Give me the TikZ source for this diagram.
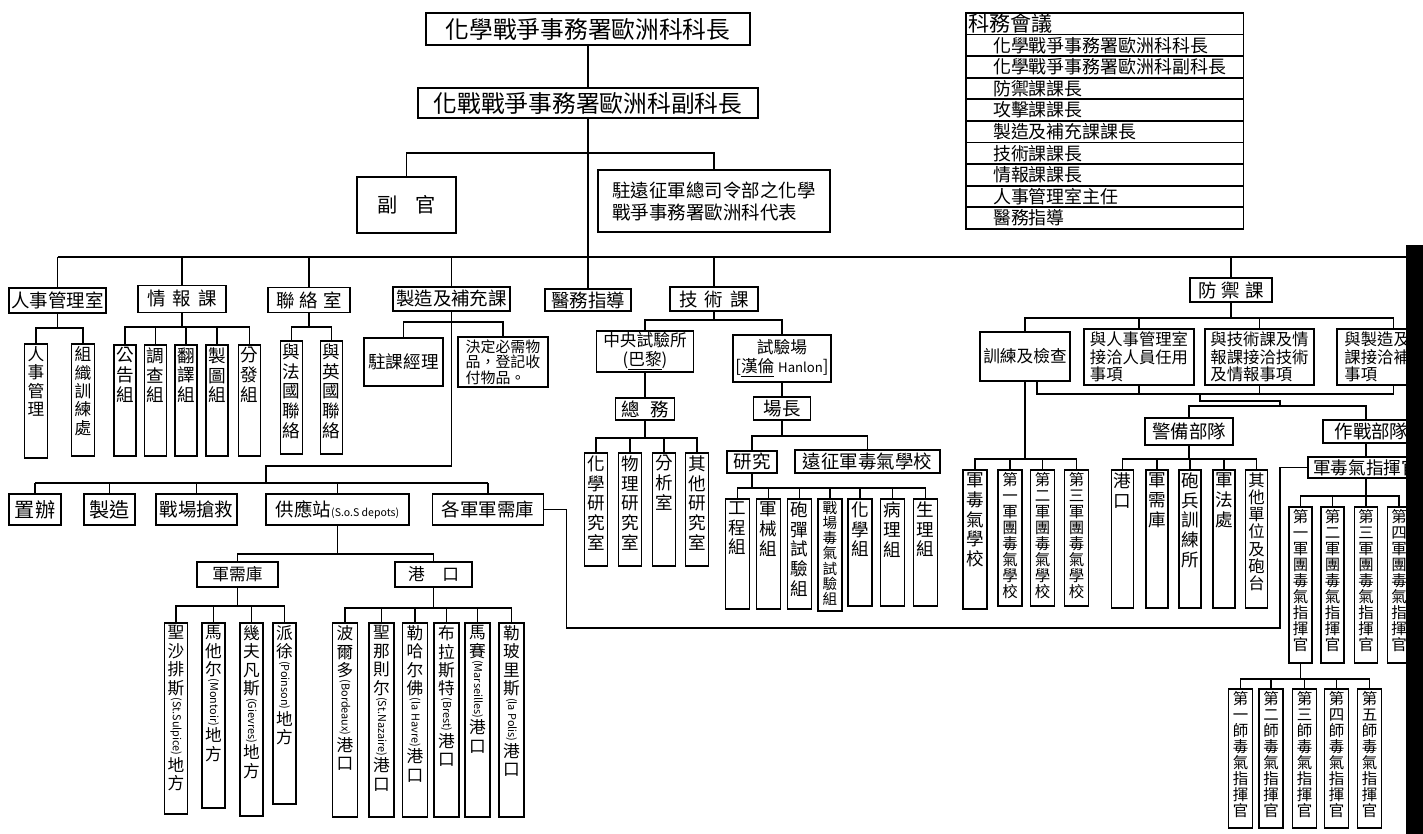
\documentclass[tikz,border=0pt]{standalone}
\usepackage{fontspec}
\usepackage{graphicx}
\setmainfont{Noto Sans CJK TC}

\newlength\pxu
\setlength\pxu{0.02cm}
% font sizes
\newcommand\fTop{\fontsize{13.5}{16}\selectfont}
\newcommand\fSec{\fontsize{10.5}{12.5}\selectfont}
\newcommand\fTab{\fontsize{10.2}{12}\selectfont}
\newcommand\fDef{\fontsize{9.3}{9.9}\selectfont}
\newcommand\fColL{\fontsize{10}{11.3}\selectfont}
\newcommand\fColM{\fontsize{9.5}{10.5}\selectfont}
\newcommand\fCol{\fontsize{9.3}{9.8}\selectfont}
\newcommand\fColS{\fontsize{8.8}{9.1}\selectfont}
\newcommand\fColXS{\fontsize{8.3}{8.6}\selectfont}
\newcommand\vlat[1]{\rotatebox[origin=c]{-90}{\fontsize{6.2}{7}\selectfont(#1)}}

\tikzset{
  wh/.style 2 args={minimum width=#1*\pxu, minimum height=#2*\pxu},
  box/.style={draw, inner sep=1pt, align=center, font=\fSec},
  vcol/.style={draw, inner sep=0pt, anchor=north},
  vt/.style={anchor=north, align=center, inner sep=1.5pt, font=\fColL},
  tabrow/.style={draw, anchor=north west, inner xsep=1.5pt, inner ysep=0.5pt,
    text width=5.45cm, align=left, minimum height=21.6*\pxu, font=\fTab},
}

\begin{document}
\begin{tikzpicture}[x=0.02cm, y=-0.02cm, line width=1pt]
\useasboundingbox (0,0) rectangle (1423,834);

% head of the section
\node[box, font=\fTop, wh={324}{32}] (chief) at (588,29) {化學戰爭事務署歐洲科科長};
\node[box, font=\fTop, wh={340}{30}] (vice) at (588,103) {化戰戰爭事務署歐洲科副科長};
\node[box, font=\fontsize{11.5}{13}\selectfont, wh={99}{56}] (aide) at (406.5,205) {副\hspace{10pt}官};
\node[box, align=left, wh={232}{62}] (rep) at (714,201) {駐遠征軍總司令部之化學\\戰爭事務署歐洲科代表};
\draw (chief.south) -- (vice.north);
\foreach \n in {aide,rep} \draw (vice.south) -- ++(0,34) -| (\n.north);

% section meeting table
\node[tabrow] (kw0) at (965,12) {\fontsize{12}{13}\selectfont 科務會議};
\foreach \txt [count=\i] in {化學戰爭事務署歐洲科科長, 化學戰爭事務署歐洲科副科長, 防禦課課長,
    攻擊課課長, 製造及補充課課長, 技術課課長, 情報課課長, 人事管理室主任, 醫務指導}
  \node[tabrow] (kw\i) at (965,{12+21.6*\i}) {\hspace*{14pt}\txt};

% first row of offices
\node[box, wh={97}{25}] (rsgls) at (57.5,300.5) {人事管理室};
\node[box, wh={88}{27}] (qbk) at (182,299) {情\hspace{4pt}報\hspace{4pt}課};
\node[box, wh={82}{25}] (lls) at (309,300) {聯\hspace{3pt}絡\hspace{3pt}室};
\node[box, wh={117}{24}] (zzk) at (451.5,299) {製造及補充課};
\node[box, wh={86}{22}] (med) at (588,300) {醫務指導};
\node[box, wh={88}{24}] (jsk) at (714,299) {技\hspace{4pt}術\hspace{4pt}課};
\node[box, wh={82}{24}] (fyk) at (1231,290) {防\hspace{3pt}禦\hspace{3pt}課};
\coordinate (busL) at (57.5,257);
\coordinate (busR) at (1406,257);
\draw (busL) -- (busR);
\draw (vice.south) -- (med.north);
\foreach \n in {rsgls,qbk,lls,zzk,jsk,fyk} \draw (\n.north) -- (\n.north |- busL);

% personnel office
\foreach \n/\x/\h/\txt in {rsgl/36/114/{人\\事\\管\\理}, zzxl/83/112/{組\\織\\訓\\練\\處}}
  \node[vcol, wh={23}{\h}, label={[vt,font=\fColM]north:\txt}] (\n) at (\x,343) {};
\foreach \n in {rsgl,zzxl} \draw (rsgls.south) -- ++(0,14) -| (\n.north);

% intelligence
\foreach \n/\x/\txt in {ggz/125/{公\\告\\組}, dcz/155.5/{調\\查\\組}, fyz/186/{翻\\譯\\組},
    ztz/217/{製\\圖\\組}, ffz/249.5/{分\\發\\組}}
  \node[vcol, wh={22}{111}, label={[vt]north:\txt}] (\n) at (\x,344) {};
\foreach \n in {ggz,dcz,fyz,ztz,ffz} \draw (qbk.south) -- ++(0,14) -| (\n.north);

% liaison
\foreach \n/\x/\txt in {yfg/291.5/{與\\法\\國\\聯\\絡}, yyg/331.5/{與\\英\\國\\聯\\絡}}
  \node[vcol, wh={22}{113}, label={[vt]north:\txt}] (\n) at (\x,340) {};
\foreach \n in {yfg,yyg} \draw (lls.south) -- ++(0,14) -| (\n.north);

% production and supply
\node[box, font=\fontsize{10}{12}\selectfont, wh={79}{48}] (zklc) at (403.5,362) {駐課經理};
\node[box, align=left, font=\fontsize{8.5}{8.8}\selectfont, wh={90}{50}] (jdwp) at (503,362) {決定必需物\\品，登記收\\付物品。};
\foreach \n in {zklc,jdwp} \draw (zzk.south) -- ++(0,10) -| (\n.north);

\node[box, font=\fontsize{11.5}{13}\selectfont, wh={52}{31}] (zb) at (35,509.5) {置辦};
\node[box, font=\fontsize{11.5}{13}\selectfont, wh={51}{31}] (zz) at (109.5,509.5) {製造};
\node[box, wh={81}{31}] (zcqj) at (196.5,509.5) {戰場搶救};
\node[box, wh={143}{31}] (gyz) at (337.5,509.5) {供應站{\fontsize{6}{7}\selectfont(S.o.S depots)}};
\node[box, wh={111}{31}] (gjjxk) at (488,509.5) {各軍軍需庫};
\coordinate (zzjog) at (266,466);
\coordinate (bus3L) at (35,483);
\coordinate (bus3R) at (488,483);
\draw (zzk.south) |- (zzjog) -- (zzjog |- bus3L);
\draw (bus3L) -- (bus3R);
\foreach \n in {zb,zz,zcqj,gyz,gjjxk} \draw (\n.north) -- (\n.north |- bus3L);

% depots and ports
\node[box, font=\fColM, wh={81}{25}] (jxk) at (237.5,574.5) {軍需庫};
\node[box, font=\fColM, wh={77}{25}] (gk) at (433.5,574.5) {港\hspace{10pt}口};
\foreach \n in {jxk,gk} \draw (gyz.south) -- ++(0,28) -| (\n.north);

\foreach \n/\x/\h/\txt in {d1/176/191/{聖\\沙\\排\\斯\\\vlat{St.Sulpice}\\地\\方},
    d2/213.5/185/{馬\\他\\尔\\\vlat{Montoir}\\地\\方},
    d3/251.5/193/{幾\\夫\\凡\\斯\\\vlat{Gievres}\\地\\方},
    d4/284.5/181/{派\\徐\\\vlat{Poinson}\\地\\方}}
  \node[vcol, wh={23}{\h}, label={[vt,font=\fColM]north:\txt}] (\n) at (\x,622) {};
\foreach \n in {d1,d2,d3,d4} \draw (jxk.south) -- ++(0,18) -| (\n.north);

\foreach \n/\x/\txt in {p1/345/{波\\爾\\多\\\vlat{Bordeaux}\\港\\口},
    p2/381.5/{聖\\那\\則\\尔\\\vlat{St.Nazaire}\\港\\口},
    p3/415/{勒\\哈\\尔\\佛\\\vlat{la Havre}\\港\\口},
    p4/446.5/{布\\拉\\斯\\特\\\vlat{Brest}\\港\\口},
    p5/477.5/{馬\\賽\\\vlat{Marseilles}\\港\\口},
    p6/511.5/{勒\\玻\\里\\斯\\\vlat{la Polis}\\港\\口}}
  \node[vcol, wh={25}{194}, label={[vt,font=\fColM]north:\txt}] (\n) at (\x,622) {};
\foreach \n in {p1,p2,p3,p4,p5,p6} \draw (gk.south) -- ++(0,20) -| (\n.north);

% technical section
\node[box, font=\fontsize{9.5}{10.5}\selectfont, wh={97}{37}] (zysys) at (645,351.5) {中央試驗所\\(\underline{巴黎})};
\node[box, font=\fontsize{9.5}{11}\selectfont, wh={98}{47}] (sycc) at (782,358.5) {試驗場\\{[}\underline{漢倫} {\fontsize{7.5}{8}\selectfont Hanlon}{]}};
\foreach \n in {zysys,sycc} \draw (jsk.south) -- ++(0,8) -| (\n.north);
\node[box, wh={59}{22}] (zw) at (645,409) {總\hspace{6pt}務};
\node[box, wh={57}{23}] (cz) at (782,408.5) {場長};
\draw (zysys.south) -- (zw.north);
\draw (sycc.south) -- (cz.north);

\foreach \n/\x/\txt in {hxs/596/{化\\學\\研\\究\\室}, wls/630/{物\\理\\研\\究\\室},
    fxs/664/{分\\析\\室}, qts/697/{其\\他\\研\\究\\室}}
  \node[vcol, wh={23}{113}, label={[vt]north:\txt}] (\n) at (\x,452) {};
\foreach \n in {hxs,wls,fxs,qts} \draw (zw.south) -- ++(0,17) -| (\n.north);

\node[box, wh={50}{22}] (yj) at (752,462) {研究};
\node[box, wh={145}{23}] (yzjdqxx) at (867.5,461.5) {遠征軍毒氣學校};
\foreach \n in {yj,yzjdqxx} \draw (cz.south) -- ++(0,15) -| (\n.north);

\foreach \n/\x/\h/\fnt/\txt in {gcz/737.5/110/\fColL/{工\\程\\組}, jxz/768.5/110/\fColL/{軍\\械\\組},
    pdz/799.5/110/\fColL/{砲\\彈\\試\\驗\\組}, zcz/830/112/\fColXS/{戰\\場\\毒\\氣\\試\\驗\\組},
    hxz/860/107/\fColL/{化\\學\\組}, blz/892.5/107/\fColL/{病\\理\\組}, slz/925.5/107/\fColL/{生\\理\\組}}
  \node[vcol, wh={24}{\h}, label={[vt,font=\fnt]north:\txt}] (\n) at (\x,498) {};
\foreach \n in {gcz,jxz,pdz,zcz,hxz,blz,slz} \draw (yj.south) -- ++(0,14) -| (\n.north);

% defence section
\node[box, font=\fontsize{9.5}{11}\selectfont, wh={90}{49}] (xljc) at (1025,356.5) {訓練及檢查};
\node[box, align=left, font=\fDef, wh={110}{56}] (yrs) at (1139,357) {與人事管理室\\接洽人員任用\\事項};
\node[box, align=left, font=\fDef, wh={109}{56}] (yjs) at (1259.5,357) {與技術課及情\\報課接洽技術\\及情報事項};
\node[box, align=left, font=\fDef, wh={113}{56}] (yzz) at (1393.5,357) {與製造及補充\\課接洽補給\\事項};
\foreach \n in {xljc,yrs,yjs,yzz} \draw (fyk.south) -- ++(0,15) -| (\n.north);
\coordinate (fyb) at (1037,394);
\coordinate (fystep) at (1200,394);
\draw (xljc.south -| fyb) -- (fyb) -| (yzz.south);
\draw (yrs.south) -- (yrs.south |- fyb);
\draw (yjs.south) -- (yjs.south |- fyb);
\draw (fystep) -- ++(0,7) -- ++(80,0) -- ++(0,6);

\foreach \n/\x/\h/\fnt/\txt in {xx1/975/139/\fColL/{軍\\毒\\氣\\學\\校},
    xx2/1010/136/\fColS/{第\\一\\軍\\團\\毒\\氣\\學\\校},
    xx3/1042.5/136/\fColS/{第\\二\\軍\\團\\毒\\氣\\學\\校},
    xx4/1076.5/136/\fColS/{第\\三\\軍\\團\\毒\\氣\\學\\校}}
  \node[vcol, wh={24}{\h}, label={[vt,font=\fnt]north:\txt}] (\n) at (\x,469) {};
\foreach \n in {xx1,xx2,xx3,xx4} \draw (xljc.south) -- ++(0,77) -| (\n.north);

\node[box, wh={88}{27}] (jbbd) at (1189,431.5) {警備部隊};
\node[box, wh={97}{23}] (zzbd) at (1371.5,431.5) {作戰部隊};
\node[box, font=\fontsize{10}{12}\selectfont, wh={116}{21}] (jdzh) at (1366,467.5) {軍毒氣指揮官};

\foreach \n/\x/\fnt/\txt in {jb1/1122.5/\fColL/{港\\口}, jb2/1157/\fColL/{軍\\需\\庫},
    jb3/1190/\fColL/{砲\\兵\\訓\\練\\所}, jb4/1224/\fColL/{軍\\法\\處},
    jb5/1256.5/\fCol/{其\\他\\單\\位\\及\\砲\\台}}
  \node[vcol, wh={22}{138}, label={[vt,font=\fnt]north:\txt}] (\n) at (\x,469) {};
\foreach \n in {jb1,jb2,jb3,jb4,jb5} \draw (jbbd.south) -- ++(0,13) -| (\n.north);

\foreach \n/\x/\txt in {yjt/1300.5/{第\\一\\軍\\團\\毒\\氣\\指\\揮\\官},
    ejt/1332.5/{第\\二\\軍\\團\\毒\\氣\\指\\揮\\官},
    sjt/1366/{第\\三\\軍\\團\\毒\\氣\\指\\揮\\官},
    sijt/1399/{第\\四\\軍\\團\\毒\\氣\\指\\揮\\官}}
  \node[vcol, wh={23}{156}, label={[vt,font=\fColS]north:\txt}] (\n) at (\x,506) {};
\draw (jbbd.north) -- ++(0,-11) -| (zzbd.north -| sjt.north);
\draw (zzbd.south -| sjt.north) -- (jdzh.north -| sjt.north);
\foreach \n in {yjt,ejt,sjt,sijt} \draw (jdzh.south) -- ++(0,17) -| (\n.north);

\foreach \n/\x/\txt in {ys/1240.5/{第\\一\\師\\毒\\氣\\指\\揮\\官},
    es/1271/{第\\二\\師\\毒\\氣\\指\\揮\\官},
    ss/1304.5/{第\\三\\師\\毒\\氣\\指\\揮\\官},
    sis/1336.5/{第\\四\\師\\毒\\氣\\指\\揮\\官},
    ws/1369.5/{第\\五\\師\\毒\\氣\\指\\揮\\官}}
  \node[vcol, wh={24}{139}, label={[vt,font=\fColS]north:\txt}] (\n) at (\x,688) {};
\foreach \n in {ys,es,ss,sis,ws} \draw (yjt.south) -- ++(0,15) -| (\n.north);

% depots line to the gas officers
\coordinate (xlturn) at (1280,628);
\draw (gjjxk.east) -- ++(22,0) |- (xlturn) |- (jdzh.west);

% dark page edge
\fill (1406,245) rectangle (1423,834);
\end{tikzpicture}
\end{document}
